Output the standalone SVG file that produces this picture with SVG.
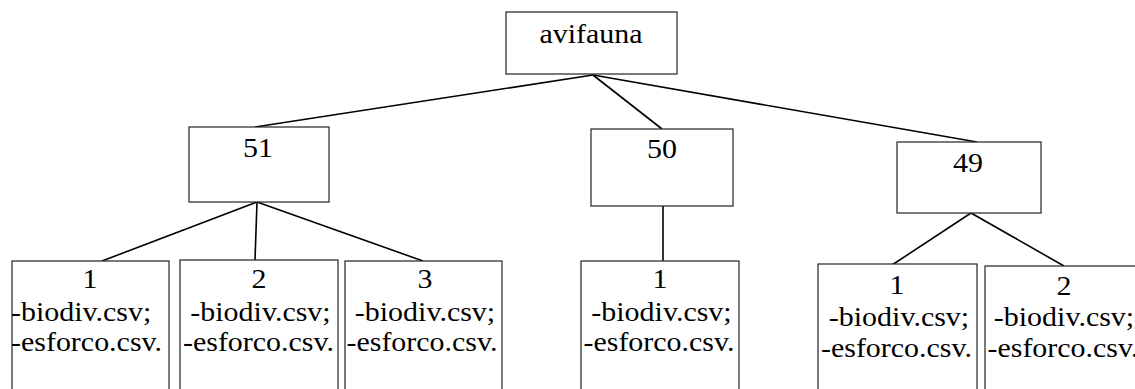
<svg xmlns="http://www.w3.org/2000/svg" width="1135" height="389" viewBox="0 0 1135 389">
<style>
.box{fill:#fff;stroke:#222;stroke-width:1.2}
.edge{stroke:#000;stroke-width:1.6;fill:none}
.t{font-size:28px;fill:#000}
.m{text-anchor:middle}
</style>
<rect width="1135" height="389" fill="#fff"/>
<g id="connectors">
<line class="edge" x1="593" y1="75" x2="255" y2="127"/>
<line class="edge" x1="593" y1="75" x2="662" y2="129"/>
<line class="edge" x1="593" y1="75" x2="977" y2="142"/>
<line class="edge" x1="257" y1="202" x2="102" y2="261"/>
<line class="edge" x1="257" y1="202" x2="255" y2="260"/>
<line class="edge" x1="257" y1="202" x2="423" y2="261"/>
<line class="edge" x1="663" y1="206" x2="663" y2="261"/>
<line class="edge" x1="971" y1="213" x2="892" y2="265"/>
<line class="edge" x1="971" y1="213" x2="1064" y2="266"/>
</g>
<g font-family="'Liberation Serif', 'DejaVu Serif', serif">
<g id="avifauna">
<rect class="box" x="506" y="12" width="171" height="62"/>
<text class="t m" transform="translate(591,43) scale(1.07,1)">avifauna</text>
</g>
<g id="n51">
<rect class="box" x="189" y="127" width="140" height="75"/>
<text class="t m" transform="translate(258,157) scale(1.07,1)">51</text>
</g>
<g id="n50">
<rect class="box" x="591" y="129" width="142" height="77"/>
<text class="t m" transform="translate(662,158) scale(1.07,1)">50</text>
</g>
<g id="n49">
<rect class="box" x="897" y="142" width="144" height="71"/>
<text class="t m" transform="translate(968,172) scale(1.07,1)">49</text>
</g>
<g id="n51-1">
<rect class="box" x="12" y="261" width="157" height="140"/>
<text class="t m" transform="translate(90,288) scale(1.07,1)">1</text>
<text class="t" transform="translate(11,321) scale(1.07,1)">-biodiv.csv;</text>
<text class="t" transform="translate(11,351) scale(1.07,1)">-esforco.csv.</text>
</g>
<g id="n51-2">
<rect class="box" x="180" y="260" width="158" height="140"/>
<text class="t m" transform="translate(259,288) scale(1.07,1)">2</text>
<text class="t m" transform="translate(260.5,321) scale(1.07,1)">-biodiv.csv;</text>
<text class="t m" transform="translate(258.5,351) scale(1.07,1)">-esforco.csv.</text>
</g>
<g id="n51-3">
<rect class="box" x="345" y="261" width="157" height="140"/>
<text class="t m" transform="translate(425,288) scale(1.07,1)">3</text>
<text class="t m" transform="translate(425,321) scale(1.07,1)">-biodiv.csv;</text>
<text class="t m" transform="translate(422,351) scale(1.07,1)">-esforco.csv.</text>
</g>
<g id="n50-1">
<rect class="box" x="581" y="261" width="158" height="140"/>
<text class="t m" transform="translate(660,288) scale(1.07,1)">1</text>
<text class="t m" transform="translate(661.5,321) scale(1.07,1)">-biodiv.csv;</text>
<text class="t m" transform="translate(659,351) scale(1.07,1)">-esforco.csv.</text>
</g>
<g id="n49-1">
<rect class="box" x="818" y="264" width="159" height="140"/>
<text class="t m" transform="translate(897,294) scale(1.07,1)">1</text>
<text class="t m" transform="translate(899,326) scale(1.07,1)">-biodiv.csv;</text>
<text class="t m" transform="translate(896.5,357) scale(1.07,1)">-esforco.csv.</text>
</g>
<g id="n49-2">
<rect class="box" x="985" y="266" width="160" height="140"/>
<text class="t m" transform="translate(1064,295) scale(1.07,1)">2</text>
<text class="t m" transform="translate(1064,326) scale(1.07,1)">-biodiv.csv;</text>
<text class="t m" transform="translate(1063,357) scale(1.07,1)">-esforco.csv.</text>
</g>
</g>
</svg>
